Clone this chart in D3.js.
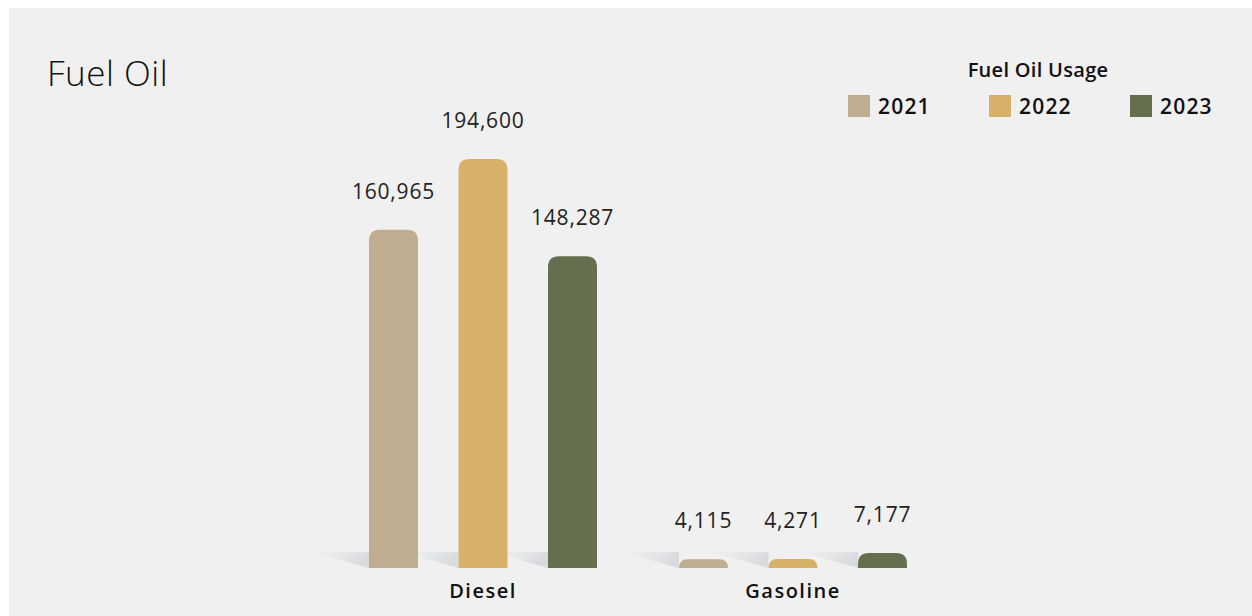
<!DOCTYPE html>
<html>
<head>
<meta charset="utf-8">
<script src="https://cdn.jsdelivr.net/npm/d3@7"></script>
<style>
  html, body { margin: 0; padding: 0; background: #fff; }
  svg { display: block; }
</style>
</head>
<body>
<svg id="chart"></svg>
<script>
const categories = ['Diesel', 'Gasoline'];
const years = ['2021', '2022', '2023'];
const values2021 = [160965, 4115];
const values2022 = [194600, 4271];
const values2023 = [148287, 7177];
const yearColors = ['#bead8e', '#d8b169', '#646f4f'];

const width = 1252;
const height = 616;
const baseline = 568;

const svg = d3.select('#chart')
    .attr('width', width)
    .attr('height', height);

// panel background
svg.append('rect')
    .attr('x', 9)
    .attr('y', 8)
    .attr('width', width - 9)
    .attr('height', height - 8)
    .attr('fill', '#f0f0f0');

const defs = svg.append('defs');
const grad = defs.append('linearGradient')
    .attr('id', 'shadow')
    .attr('x1', '0%').attr('x2', '100%')
    .attr('y1', '0%').attr('y2', '30%');
grad.append('stop').attr('offset', '0%').attr('stop-color', '#f0f0f0');
grad.append('stop').attr('offset', '60%').attr('stop-color', '#e4e5e7');
grad.append('stop').attr('offset', '100%').attr('stop-color', '#d9dadd');

const series = years.map((y, i) => ({
    year: y,
    color: yearColors[i],
    values: [values2021, values2022, values2023][i]
}));

const rows = [];
categories.forEach((c, ci) => {
    series.forEach(s => rows.push({ category: c, year: s.year, value: s.values[ci], color: s.color }));
});

const x0 = d3.scaleBand()
    .domain(categories)
    .range([328, 948]);

const x1 = d3.scaleBand()
    .domain(years)
    .range([41, 269])
    .paddingInner(0.453)
    .paddingOuter(0);

const yScale = d3.scaleLinear()
    .domain([0, 194600])
    .range([baseline, 159]);

const chart = svg.append('g');

// cast shadows at the base
chart.selectAll('.shadow')
    .data(rows)
    .join('path')
    .classed('shadow', true)
    .attr('fill', 'url(#shadow)')
    .attr('d', d => {
        const bx = x0(d.category) + x1(d.year);
        return `M${bx - 56},${baseline - 16} L${bx},${baseline - 16} L${bx},${baseline} Z`;
    });

const r = 11;
chart.selectAll('.bar')
    .data(rows)
    .join('path')
    .classed('bar', true)
    .attr('fill', d => d.color)
    .attr('d', d => {
        const bx = x0(d.category) + x1(d.year);
        const w = x1.bandwidth();
        const top = yScale(d.value);
        const h = baseline - top;
        const rr = Math.min(r, h, w / 2);
        return `M${bx},${baseline} L${bx},${top + rr} Q${bx},${top} ${bx + rr},${top} ` +
            `L${bx + w - rr},${top} Q${bx + w},${top} ${bx + w},${top + rr} L${bx + w},${baseline} Z`;
    });

chart.selectAll('.bar-label')
    .data(rows)
    .join('text')
    .classed('bar-label', true)
    .attr('x', d => x0(d.category) + x1(d.year) + x1.bandwidth() / 2)
    .attr('y', d => yScale(d.value) - 31)
    .attr('text-anchor', 'middle')
    .attr('fill', '#222')
    .style('font-family', '"Open Sans", sans-serif')
    .style('font-size', '21px')
    .style('letter-spacing', '0.8px')
    .text(d => d3.format(',')(d.value));

const xAxis = d3.axisBottom(x0).tickSize(0).tickPadding(0);
const axisG = chart.append('g')
    .attr('transform', `translate(0,${baseline})`)
    .call(xAxis);
axisG.select('.domain').remove();
axisG.selectAll('text')
    .attr('dy', 0)
    .attr('y', 30)
    .attr('fill', '#111')
    .style('font-family', '"Open Sans", sans-serif')
    .style('font-size', '20px')
    .style('font-weight', 600)
    .style('letter-spacing', '1.5px');

// title
svg.append('text')
    .attr('x', 47)
    .attr('y', 86)
    .attr('fill', '#111')
    .style('font-family', '"Open Sans", sans-serif')
    .style('font-weight', 300)
    .style('font-size', '35px')
    .style('letter-spacing', '0.5px')
    .text('Fuel Oil');

// legend
const legend = svg.append('g');
legend.append('text')
    .attr('x', 1038)
    .attr('y', 77)
    .attr('text-anchor', 'middle')
    .attr('fill', '#111')
    .style('font-family', '"Open Sans", sans-serif')
    .style('font-size', '20px')
    .style('font-weight', 600)
    .style('letter-spacing', '0.3px')
    .text('Fuel Oil Usage');

const legendX = d3.scalePoint()
    .domain(years)
    .range([848, 1130]);

const items = legend.selectAll('.legend-item')
    .data(series)
    .join('g')
    .classed('legend-item', true)
    .attr('transform', d => `translate(${legendX(d.year)},95)`);
items.append('rect')
    .attr('width', 22)
    .attr('height', 22)
    .attr('fill', d => d.color);
items.append('text')
    .attr('x', 30)
    .attr('y', 19)
    .attr('fill', '#111')
    .style('font-family', '"Open Sans", sans-serif')
    .style('font-size', '21px')
    .style('font-weight', 600)
    .style('letter-spacing', '1.2px')
    .text(d => d.year);
</script>
</body>
</html>
